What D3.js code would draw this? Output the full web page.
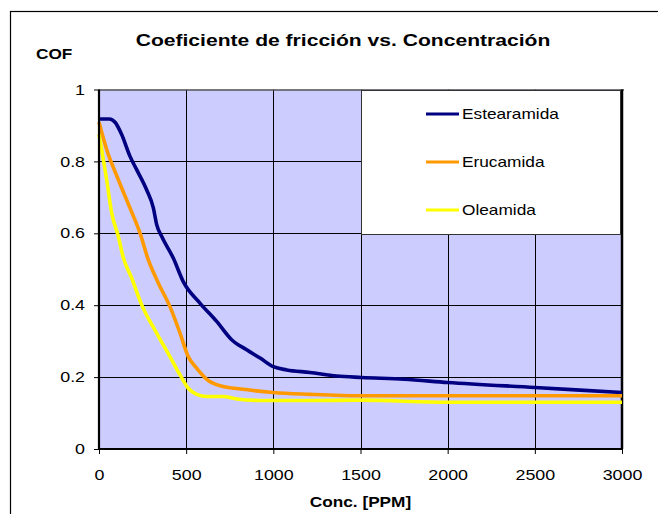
<!DOCTYPE html>
<html>
<head>
<meta charset="utf-8">
<script src="https://cdn.jsdelivr.net/npm/d3@7"></script>
<style>
  html, body { margin: 0; padding: 0; background: #fff; }
  svg { display: block; font-family: "Liberation Sans", Arial, sans-serif; }
</style>
</head>
<body>
<svg id="chart" width="658" height="514"></svg>
<script>
// Friction coefficient versus additive concentration
const title = "Coeficiente de fricción vs. Concentración";
const yTitle = "COF";
const xTitle = "Conc. [PPM]";

const xTicks = [0, 500, 1000, 1500, 2000, 2500, 3000];
const yTicks = [0, 0.2, 0.4, 0.6, 0.8, 1];

const seriesNames = ["Estearamida", "Erucamida", "Oleamida"];
const seriesColors = ["#000080", "#FF9900", "#FFFF00"];

const estearamidaPPM = [0, 60, 92, 130, 178, 216, 273, 312, 331, 360, 426, 484, 579, 675, 761, 847, 924, 1000, 1077, 1210, 1363, 1507, 1750, 2000, 2500, 3000];
const estearamidaCOF = [0.918, 0.918, 0.909, 0.875, 0.814, 0.777, 0.721, 0.670, 0.624, 0.591, 0.531, 0.465, 0.406, 0.355, 0.304, 0.276, 0.253, 0.229, 0.220, 0.213, 0.203, 0.199, 0.194, 0.185, 0.171, 0.157];

const erucamidaPPM = [0, 44, 111, 178, 235, 283, 340, 407, 465, 512, 560, 618, 694, 828, 1000, 1210, 1500, 2000, 2500, 3000];
const erucamidaCOF = [0.909, 0.833, 0.749, 0.670, 0.601, 0.526, 0.462, 0.396, 0.322, 0.257, 0.225, 0.194, 0.176, 0.166, 0.157, 0.152, 0.148, 0.148, 0.148, 0.148];

const oleamidaPPM = [0, 44, 73, 111, 139, 188, 245, 331, 407, 465, 512, 560, 618, 713, 790, 924, 1210, 1500, 2000, 3000];
const oleamidaCOF = [0.875, 0.749, 0.656, 0.591, 0.533, 0.475, 0.401, 0.322, 0.257, 0.206, 0.169, 0.152, 0.146, 0.146, 0.139, 0.135, 0.135, 0.136, 0.130, 0.130];

const seriesPPM = [estearamidaPPM, erucamidaPPM, oleamidaPPM];
const seriesCOF = [estearamidaCOF, erucamidaCOF, oleamidaCOF];

const svg = d3.select("#chart");
const plot = { left: 99, top: 89.5, right: 622, bottom: 449 };

const x = d3.scaleLinear().domain([0, 3000]).range([plot.left, plot.right]);
const y = d3.scaleLinear().domain([0, 1]).range([plot.bottom, plot.top]);

// widen text horizontally, the way the chart's lettering is drawn
function widen(sel, k) {
  sel.each(function () {
    const w = this.getComputedTextLength();
    this.setAttribute("textLength", w * k);
    this.setAttribute("lengthAdjust", "spacingAndGlyphs");
  });
}
const K = 1.23;

// outer chart frame
svg.append("rect")
  .attr("x", 10.5).attr("y", 11.5)
  .attr("width", 660).attr("height", 520)
  .attr("fill", "none").attr("stroke", "#000").attr("stroke-width", 1.2);

// plot background
svg.append("rect")
  .attr("x", plot.left).attr("y", plot.top)
  .attr("width", plot.right - plot.left).attr("height", plot.bottom - plot.top)
  .attr("fill", "#CCCCFF");

// grid lines
const grid = svg.append("g").attr("stroke", "#000").attr("stroke-width", 1);
grid.selectAll("line.v").data(xTicks.slice(1, -1)).join("line")
  .attr("x1", d => Math.round(x(d)) + 0.5).attr("x2", d => Math.round(x(d)) + 0.5)
  .attr("y1", plot.top).attr("y2", plot.bottom);
grid.selectAll("line.h").data(yTicks.slice(1, -1)).join("line")
  .attr("y1", d => Math.round(y(d)) + 0.5).attr("y2", d => Math.round(y(d)) + 0.5)
  .attr("x1", plot.left).attr("x2", plot.right);

// plot frame: grey top, heavy right edge
svg.append("line").attr("x1", plot.left).attr("x2", plot.right + 2)
  .attr("y1", plot.top + 0.5).attr("y2", plot.top + 0.5)
  .attr("stroke", "#555").attr("stroke-width", 1.5);
svg.append("line").attr("x1", plot.right).attr("x2", plot.right)
  .attr("y1", plot.top).attr("y2", plot.bottom)
  .attr("stroke", "#000").attr("stroke-width", 2.5);

// series lines
const line = d3.line().curve(d3.curveMonotoneX);
seriesNames.forEach((name, i) => {
  const pts = seriesPPM[i].map((p, j) => [x(p), y(seriesCOF[i][j])]);
  svg.append("path")
    .attr("d", line(pts))
    .attr("fill", "none")
    .attr("stroke", seriesColors[i])
    .attr("stroke-width", 3.6)
    .attr("stroke-linejoin", "round")
    .attr("stroke-linecap", "butt");
});

// axes
const xAxis = svg.append("g")
  .attr("transform", `translate(0,${plot.bottom})`)
  .call(d3.axisBottom(x).tickValues(xTicks).tickSize(5).tickPadding(16).tickFormat(d3.format("d")));
const yAxis = svg.append("g")
  .attr("transform", `translate(${plot.left},0)`)
  .call(d3.axisLeft(y).tickValues(yTicks).tickSize(5).tickPadding(9).tickFormat(d => d === 0 || d === 1 ? String(d) : d3.format(".1f")(d)));

[xAxis, yAxis].forEach(a => {
  a.select(".domain").remove();
  a.selectAll(".tick line").attr("stroke", "#000");
  a.selectAll(".tick text")
    .attr("font-family", "Liberation Sans, Arial, sans-serif")
    .attr("font-size", 14.5).attr("fill", "#000");
});
widen(xAxis.selectAll(".tick text"), K);
widen(yAxis.selectAll(".tick text"), K);

// heavy axis lines
svg.append("line").attr("x1", plot.left).attr("x2", plot.left)
  .attr("y1", plot.top).attr("y2", plot.bottom + 1)
  .attr("stroke", "#000").attr("stroke-width", 2.2);
svg.append("line").attr("x1", plot.left - 1).attr("x2", plot.right + 1)
  .attr("y1", plot.bottom).attr("y2", plot.bottom)
  .attr("stroke", "#000").attr("stroke-width", 2.2);

// legend
const legend = svg.append("g");
legend.append("rect")
  .attr("x", 361.5).attr("y", 90.5).attr("width", 259).attr("height", 144)
  .attr("fill", "#fff").attr("stroke", "#333").attr("stroke-width", 1);
const legendY = [114, 162, 210];
seriesNames.forEach((name, i) => {
  legend.append("line")
    .attr("x1", 426).attr("x2", 459)
    .attr("y1", legendY[i]).attr("y2", legendY[i])
    .attr("stroke", seriesColors[i]).attr("stroke-width", 3);
  const t = legend.append("text")
    .attr("x", 462).attr("y", legendY[i] + 5)
    .attr("font-size", 14.5).attr("fill", "#000")
    .text(name);
  widen(t, 1.19);
});

// titles
const tt = svg.append("text")
  .attr("x", 343).attr("y", 46)
  .attr("text-anchor", "middle")
  .attr("font-size", 17).attr("font-weight", "bold")
  .text(title);
widen(tt, 1.24);

const yt = svg.append("text")
  .attr("x", 36).attr("y", 59)
  .attr("font-size", 14).attr("font-weight", "bold")
  .text(yTitle);
widen(yt, K);

const xt = svg.append("text")
  .attr("x", (plot.left + plot.right) / 2).attr("y", 507)
  .attr("text-anchor", "middle")
  .attr("font-size", 14).attr("font-weight", "bold")
  .text(xTitle);
widen(xt, K);
</script>
</body>
</html>
